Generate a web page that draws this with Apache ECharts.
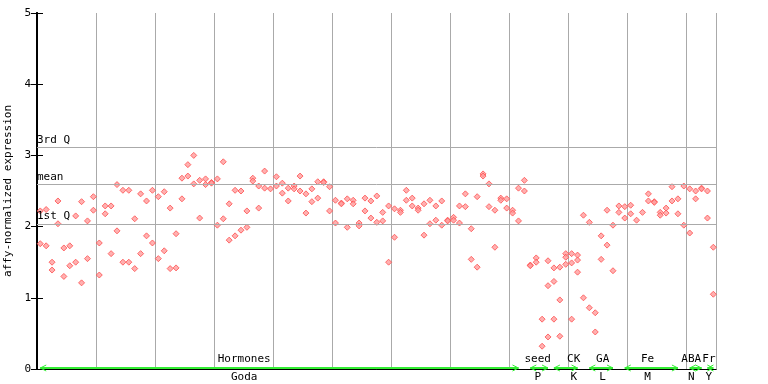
<!DOCTYPE html>
<html><head><meta charset="utf-8">
<script src="https://cdn.jsdelivr.net/npm/echarts@6/dist/echarts.min.js"></script>
<style>html,body{margin:0;padding:0;background:#fff}#c{width:768px;height:384px}</style>
</head><body><div id="c"></div>
<script>
// replicate values per sample (sample i plotted at x = i + 0.55)
var rep1 = [2.22,2.24,1.50,2.36,1.70,1.73,2.15,2.35,2.08,2.42,
1.77,2.29,2.29,2.59,2.51,2.51,2.11,2.46,2.36,2.51,
2.42,2.49,2.26,1.90,2.68,2.87,3.00,2.65,2.67,2.62,
2.67,2.91,2.32,2.51,2.50,2.22,2.68,2.57,2.78,2.53,
2.70,2.61,2.54,2.57,2.71,2.46,2.53,2.63,2.63,2.56,
2.37,2.33,2.39,2.37,2.05,2.40,2.36,2.43,2.20,2.29,
2.25,2.23,2.51,2.40,2.26,2.32,2.37,2.29,2.36,2.09,
2.13,2.29,2.46,1.97,2.42,2.74,2.60,2.23,2.40,2.39,
2.23,2.54,2.65,1.46,1.56,0.70,1.52,1.42,1.43,1.62,
1.62,1.60,2.16,2.06,0.79,1.87,2.23,2.02,2.29,2.28,
2.30,2.09,2.20,2.46,2.35,2.20,2.26,2.56,2.39,2.57,
2.53,2.50,2.54,2.50,1.71];
var rep2 = [1.76,1.73,1.39,2.04,1.30,1.45,1.50,1.21,1.55,2.23,
1.32,2.18,1.62,1.94,1.50,1.50,1.41,1.62,1.87,1.77,
1.55,1.66,1.41,1.42,2.39,2.71,2.60,2.12,2.59,2.61,
2.02,2.11,1.81,1.87,1.95,1.99,2.64,2.26,2.54,null,
2.57,2.47,2.36,2.53,2.50,2.19,2.35,2.40,2.62,2.22,
2.05,2.32,1.99,2.32,2.01,2.22,2.12,2.06,2.08,1.50,
1.85,2.20,2.37,2.29,2.23,1.88,2.04,2.09,2.02,2.08,
2.09,2.05,2.28,1.54,1.43,2.71,2.28,1.71,2.37,2.26,
2.19,2.08,2.50,1.45,1.50,0.32,1.17,1.23,0.97,1.57,
1.49,1.53,1.00,0.86,0.52,1.54,1.74,1.38,2.20,2.12,
2.18,null,null,2.36,2.34,2.16,2.19,2.36,2.18,2.02,
1.91,2.39,2.53,2.12,1.05];
var rep3 = {86:0.45,87:0.70,88:0.46,89:1.47,90:0.70,91:1.36};

// reference lines
var refNames = ["3rd Q","mean","1st Q"];
var refValues = [3.108,2.588,2.041];

// sample groups: first and last sample index, upper label, lower label, label anchor (sample units)
var groupStart = [0,83,87,93,99,110,113];
var groupEnd   = [81,86,91,97,108,112,114];
var groupTop   = ["Hormones","seed","CK","GA","Fe","ABA","Fr"];
var groupBottom= ["Goda","P","K","L","M","N","Y"];
var groupLabelAt=[35.1,84.8,90.9,95.8,103.4,110.8,113.8];

var yTicks = [0,1,2,3,4,5];
var nSamples = 115;

var pts = [];
for (var i=0;i<rep1.length;i++){
  if (rep1[i]!=null) pts.push([i+0.55,rep1[i]]);
  if (rep2[i]!=null) pts.push([i+0.55,rep2[i]]);
  if (rep3[i]!=null) pts.push([i+0.55,rep3[i]]);
}
var groups = groupStart.map(function(s,k){return [s+0.55,groupEnd[k]+0.55,groupLabelAt[k],k];});

var font = "'DejaVu Sans Mono', monospace";
var chart = echarts.init(document.getElementById('c'));
chart.setOption({
  animation:false,
  grid:{left:37,right:52,top:13,bottom:15,containLabel:false,outerBoundsMode:'none'},
  xAxis:[
    {type:'value',min:0,max:nSamples,interval:10,
     axisLine:{show:true,onZero:false,lineStyle:{color:'#000',width:1}},
     axisTick:{show:false},axisLabel:{show:false},
     splitLine:{show:true,lineStyle:{color:'#aaaaaa',width:1}}},
    {type:'value',position:'top',min:0,max:nSamples,
     axisLine:{show:true,lineStyle:{color:'#000',width:1}},
     axisTick:{show:false},axisLabel:{show:false},splitLine:{show:false}}
  ],
  yAxis:[
    {type:'value',min:0,max:5,interval:1,
     name:'affy-normalized expression',nameLocation:'middle',nameRotate:90,nameGap:22,
     nameTextStyle:{fontFamily:font,fontSize:11,color:'#000'},
     axisLine:{show:true,lineStyle:{color:'#000',width:2}},
     axisTick:{show:true,inside:true,length:6,lineStyle:{color:'#000'}},
     axisLabel:{show:true,margin:6,fontFamily:font,fontSize:11,color:'#000',
       formatter:function(v){return yTicks.indexOf(v)>=0?String(v):'';}},
     splitLine:{show:false}},
    {type:'value',position:'right',min:0,max:5,interval:1,
     axisLine:{show:true,lineStyle:{color:'#000',width:2}},
     axisTick:{show:true,inside:true,length:6,lineStyle:{color:'#000'}},
     axisLabel:{show:false},splitLine:{show:false}}
  ],
  series:[
    {type:'scatter',data:[],silent:true,
     markLine:{silent:true,symbol:'none',
       lineStyle:{color:'#aaaaaa',width:1,type:'solid'},
       label:{show:true,position:'insideStartTop',distance:[0,2],fontFamily:font,fontSize:11,color:'#000',
         formatter:function(p){return p.name;}},
       data:refValues.map(function(v,k){return {name:refNames[k],yAxis:v};})}},
    {type:'scatter',data:pts,symbol:'diamond',symbolSize:6,silent:true,
     itemStyle:{color:'#ff9c9c',borderColor:'#ff4d4d',borderWidth:1}},
    {type:'custom',data:groups,silent:true,clip:false,
     renderItem:function(params,api){
       var a=api.coord([api.value(0),0]), b=api.coord([api.value(1),0]);
       var c=api.coord([api.value(2),0]);
       var k=api.value(3);
       var y=a[1]-1;
       var g='#33ee33';
       return {type:'group',children:[
         {type:'line',shape:{x1:a[0],y1:y,x2:b[0],y2:y},style:{stroke:g,lineWidth:2}},
         {type:'polyline',shape:{points:[[a[0]+6,y-3],[a[0],y],[a[0]+6,y+3]]},style:{stroke:g,fill:null,lineWidth:1}},
         {type:'polyline',shape:{points:[[b[0]-6,y-3],[b[0],y],[b[0]-6,y+3]]},style:{stroke:g,fill:null,lineWidth:1}},
         {type:'text',x:c[0],y:y-3,style:{text:groupTop[k],fontFamily:font,fontSize:11,fill:'#000',align:'center',verticalAlign:'bottom'}},
         {type:'text',x:c[0],y:y+4,style:{text:groupBottom[k],fontFamily:font,fontSize:11,fill:'#000',align:'center',verticalAlign:'top'}}
       ]};
     }}
  ]
});
</script></body></html>
